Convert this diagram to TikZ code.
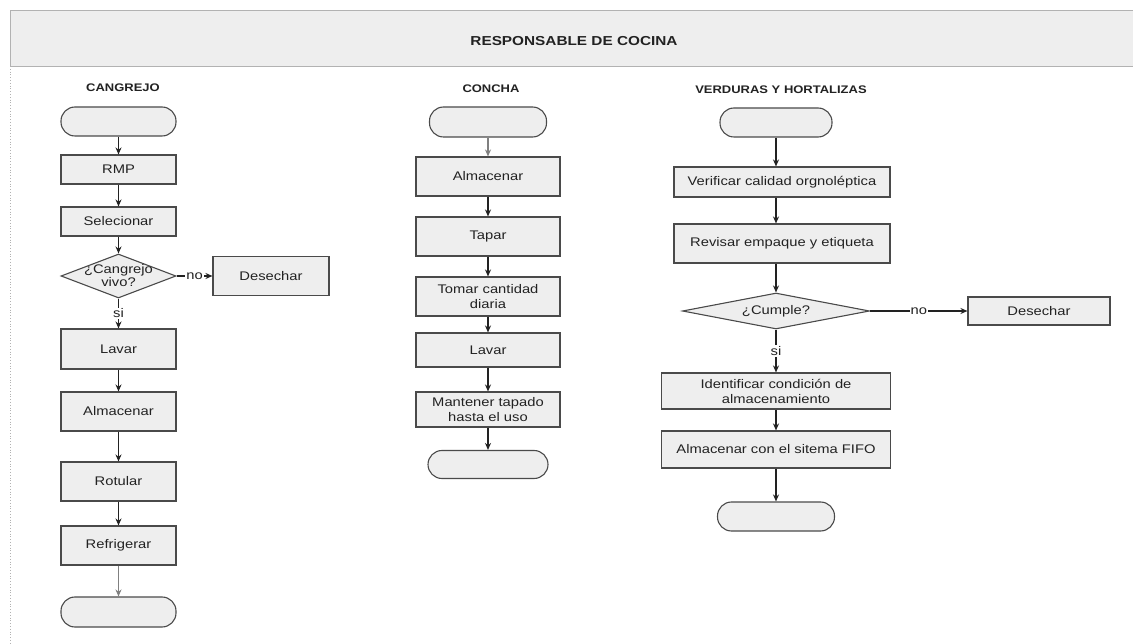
\documentclass[tikz,border=0pt]{standalone}
\usepackage{fontspec}
\setmainfont{Liberation Sans}[FakeStretch=1.18]
\usetikzlibrary{shapes, arrows.meta, positioning, shapes.geometric}
\definecolor{boxfill}{HTML}{EEEEEE}
\definecolor{boxline}{HTML}{4A4A4A}
\definecolor{inkgray}{HTML}{222222}

\begin{document}
\begin{tikzpicture}[x=1pt, y=-1pt, >={Stealth[length=7pt,width=6pt]},
  proc/.style={rectangle, draw=boxline, fill=boxfill, line width=1.1pt, inner sep=0pt,
    align=center, text=inkgray, font=\fontsize{12.5}{15}\selectfont},
  term/.style={rectangle, rounded corners=14pt, draw=boxline, fill=boxfill, line width=1.1pt, inner sep=0pt},
  dec/.style={diamond, draw=boxline, fill=boxfill, line width=1.1pt, inner sep=0pt},
  dectext/.style={align=center, text=inkgray, font=\fontsize{12.5}{13}\selectfont},
  flow/.style={->, line width=1.3pt, inkgray},
  lbl/.style={fill=white, inner sep=1pt, text=inkgray, font=\fontsize{12.5}{15}\selectfont},
  coltitle/.style={text=inkgray, font=\bfseries\fontsize{11}{13}\selectfont}
]
\useasboundingbox (0,0) rectangle (1133,644);

% banda del responsable
\fill[boxfill] (10,10) rectangle (1133,66);
\draw[gray!60, line width=0.8pt] (1133,10) -- (10,10) -- (10,66) -- (1133,66);
\draw[gray!60, dotted, line width=0.8pt] (10,66) -- (10,644);
\node[text=inkgray, font=\bfseries\fontsize{13}{15}\selectfont] (head) at (574,41) {RESPONSABLE DE COCINA};

% CANGREJO
\node[coltitle] (tCan) at (123,88) {CANGREJO};
\node[term, minimum width=115pt, minimum height=29pt] (cStart) at (118.5,121.5) {};
\node[proc, minimum width=115pt, minimum height=29pt] (cRMP) at (118.5,169.5) {RMP};
\node[proc, minimum width=115pt, minimum height=29pt] (cSel) at (118.5,221.5) {Selecionar};
\node[dec, minimum width=115pt, minimum height=44pt,
  label={[dectext]center:¿Cangrejo\\vivo?}] (cVivo) at (118.5,276) {};
\node[proc, minimum width=116pt, minimum height=39pt] (cDes) at (271,276) {Desechar};
\node[proc, minimum width=115pt, minimum height=40pt] (cLav) at (118.5,349) {Lavar};
\node[proc, minimum width=115pt, minimum height=39pt] (cAlm) at (118.5,411.5) {Almacenar};
\node[proc, minimum width=115pt, minimum height=39pt] (cRot) at (118.5,481.5) {Rotular};
\node[proc, minimum width=115pt, minimum height=39pt] (cRef) at (118.5,545.5) {Refrigerar};
\node[term, minimum width=115pt, minimum height=30pt] (cEnd) at (118.5,612) {};

\draw[flow] (cStart) -- (cRMP);
\draw[flow] (cRMP) -- (cSel);
\draw[flow] (cSel) -- (cVivo);
\draw[flow] (cVivo) -- node[lbl] {no} (cDes);
\draw[flow] (cVivo) -- node[lbl] {si} (cLav);
\draw[flow] (cLav) -- (cAlm);
\draw[flow] (cAlm) -- (cRot);
\draw[flow] (cRot) -- (cRef);
\draw[flow, gray] (cRef) -- (cEnd);

% CONCHA
\node[coltitle] (tCon) at (491,89) {CONCHA};
\node[term, minimum width=117pt, minimum height=30pt] (oStart) at (488,122) {};
\node[proc, minimum width=144pt, minimum height=39pt] (oAlm) at (488,176.5) {Almacenar};
\node[proc, minimum width=144pt, minimum height=39pt] (oTap) at (488,236.5) {Tapar};
\node[proc, minimum width=144pt, minimum height=39pt] (oTom) at (488,296.5) {Tomar cantidad\\diaria};
\node[proc, minimum width=144pt, minimum height=34pt] (oLav) at (488,350) {Lavar};
\node[proc, minimum width=144pt, minimum height=35pt] (oMan) at (488,409.5) {Mantener tapado\\hasta el uso};
\node[term, minimum width=120pt, minimum height=28pt] (oEnd) at (488,464.5) {};

\draw[flow, gray] (oStart) -- (oAlm);
\draw[flow] (oAlm) -- (oTap);
\draw[flow] (oTap) -- (oTom);
\draw[flow] (oTom) -- (oLav);
\draw[flow] (oLav) -- (oMan);
\draw[flow] (oMan) -- (oEnd);

% VERDURAS Y HORTALIZAS
\node[coltitle] (tVer) at (781,90) {VERDURAS Y HORTALIZAS};
\node[term, minimum width=112pt, minimum height=29pt] (vStart) at (776,122.5) {};
\node[proc, minimum width=216pt, minimum height=30pt] (vVer) at (782,182) {Verificar calidad orgnoléptica};
\node[proc, minimum width=216pt, minimum height=39pt] (vRev) at (782,243.5) {Revisar empaque y etiqueta};
\node[dec, minimum width=187pt, minimum height=36pt,
  label={[dectext]center:¿Cumple?}] (vCum) at (776,311) {};
\node[proc, minimum width=142pt, minimum height=28pt] (vDes) at (1039,311) {Desechar};
\node[proc, minimum width=229pt, minimum height=36pt] (vIde) at (776,391) {Identificar condición de\\almacenamiento};
\node[proc, minimum width=229pt, minimum height=37pt] (vFifo) at (776,449.5) {Almacenar con el sitema FIFO};
\node[term, minimum width=117pt, minimum height=29pt] (vEnd) at (776,516.5) {};

\draw[flow] (vStart) -- (vStart |- vVer.north);
\draw[flow] (vStart |- vVer.south) -- (vStart |- vRev.north);
\draw[flow] (vCum |- vRev.south) -- (vCum);
\draw[flow] (vCum) -- node[lbl] {no} (vDes);
\draw[flow] (vCum) -- node[lbl] {si} (vIde);
\draw[flow] (vIde) -- (vFifo);
\draw[flow] (vFifo) -- (vEnd);
\end{tikzpicture}
\end{document}
